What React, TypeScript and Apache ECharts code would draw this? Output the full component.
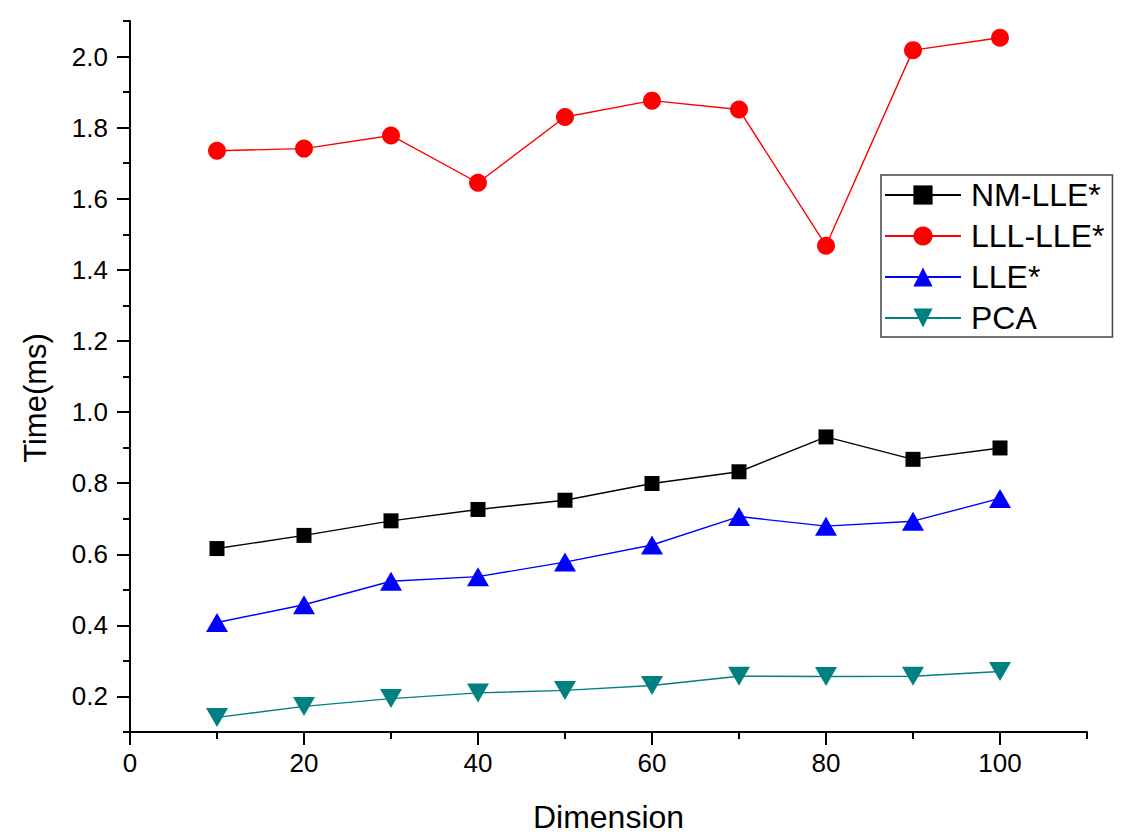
import React, { useEffect, useRef } from "react";
import * as echarts from "echarts";

// Dimension values on the x axis
const dimensions = [10, 20, 30, 40, 50, 60, 70, 80, 90, 100];

// Running time (ms) per method
const nmLle = [0.616, 0.653, 0.694, 0.726, 0.752, 0.799, 0.832, 0.93, 0.867, 0.899];
const lllLle = [1.735, 1.741, 1.778, 1.645, 1.83, 1.876, 1.851, 1.468, 2.018, 2.053];
const lle = [0.408, 0.458, 0.524, 0.537, 0.578, 0.626, 0.706, 0.679, 0.693, 0.757];
const pca = [0.141, 0.172, 0.194, 0.21, 0.217, 0.231, 0.257, 0.256, 0.257, 0.27];

// Labelled ticks
const xMajorTicks = [0, 20, 40, 60, 80, 100];
const yMajorTicks = [0.2, 0.4, 0.6, 0.8, 1.0, 1.2, 1.4, 1.6, 1.8, 2.0];

const FONT = "'Liberation Sans', Arial, Helvetica, sans-serif";

const pairs = (ys: number[]) => dimensions.map((x, i) => [x, ys[i]]);

export default function App() {
  const ref = useRef<HTMLDivElement>(null);

  useEffect(() => {
    if (!ref.current) return;
    const chart = echarts.init(ref.current, null, { renderer: "svg" });

    const axisLine = { show: true, lineStyle: { color: "#000", width: 2 } };
    const lineSeries = (
      name: string,
      ys: number[],
      color: string,
      symbol: string,
      symbolSize: number | number[],
      symbolRotate = 0
    ) => ({
      name,
      type: "line",
      data: pairs(ys),
      xAxisIndex: 0,
      yAxisIndex: 0,
      symbol,
      symbolSize,
      symbolRotate,
      showAllSymbol: true,
      lineStyle: { color, width: 1.4 },
      itemStyle: { color, borderWidth: 0 },
      emphasis: { disabled: true },
    });

    chart.setOption({
      animation: false,
      backgroundColor: "#fff",
      textStyle: { fontFamily: FONT, color: "#000" },
      grid: { left: 130, right: 34, top: 21, bottom: 103, containLabel: false },
      xAxis: [
        {
          type: "value",
          position: "bottom",
          min: 0,
          max: 110,
          interval: 10,
          axisLine,
          axisTick: { show: true, length: 7, lineStyle: { color: "#000", width: 2 } },
          axisLabel: {
            customValues: xMajorTicks,
            fontSize: 26,
            margin: 18,
            color: "#000",
            fontFamily: FONT,
          },
          splitLine: { show: false },
          name: "Dimension",
          nameLocation: "middle",
          nameGap: 69,
          nameTextStyle: { fontSize: 32, color: "#000", fontFamily: FONT },
        },
        {
          type: "value",
          position: "bottom",
          offset: 0,
          min: 0,
          max: 110,
          axisLine: { show: false },
          axisTick: {
            show: true,
            customValues: xMajorTicks,
            length: 13,
            lineStyle: { color: "#000", width: 2 },
          },
          axisLabel: { show: false },
          splitLine: { show: false },
        },
      ],
      yAxis: [
        {
          type: "value",
          position: "left",
          min: 0.1,
          max: 2.1,
          interval: 0.1,
          axisLine,
          axisTick: { show: true, length: 7, lineStyle: { color: "#000", width: 2 } },
          axisLabel: {
            customValues: yMajorTicks,
            formatter: (v: number) => v.toFixed(1),
            fontSize: 26,
            margin: 22,
            color: "#000",
            fontFamily: FONT,
          },
          splitLine: { show: false },
        },
        {
          type: "value",
          position: "left",
          offset: 0,
          min: 0.1,
          max: 2.1,
          axisLine: { show: false },
          axisTick: {
            show: true,
            customValues: yMajorTicks,
            length: 13,
            lineStyle: { color: "#000", width: 2 },
          },
          axisLabel: { show: false },
          splitLine: { show: false },
        },
      ],
      legend: {
        orient: "vertical",
        left: 881,
        top: 175,
        itemWidth: 76,
        itemHeight: 24,
        itemGap: 9,
        padding: [4, 8, 3, 3],
        borderColor: "#444",
        borderWidth: 1.5,
        backgroundColor: "#fff",
        textStyle: { fontSize: 32, color: "#000", fontFamily: FONT, padding: [0, 0, 0, 5] },
        data: ["NM-LLE*", "LLL-LLE*", "LLE*", "PCA"],
      },
      graphic: [
        {
          type: "text",
          x: 35,
          y: 398,
          rotation: Math.PI / 2,
          style: {
            text: "Time(ms)",
            fontSize: 31,
            fontFamily: FONT,
            fill: "#000",
            textAlign: "center",
            textVerticalAlign: "middle",
          },
        },
      ],
      series: [
        lineSeries("NM-LLE*", nmLle, "#000000", "rect", 15),
        lineSeries("LLL-LLE*", lllLle, "#ff0000", "circle", 18),
        lineSeries("LLE*", lle, "#0000ff", "triangle", [22, 19]),
        lineSeries("PCA", pca, "#008080", "triangle", [22, 19], 180),
      ],
    });

    return () => chart.dispose();
  }, []);

  return (
    <div
      ref={ref}
      style={{ position: "absolute", left: 0, top: 0, width: 1121, height: 838 }}
    />
  );
}
